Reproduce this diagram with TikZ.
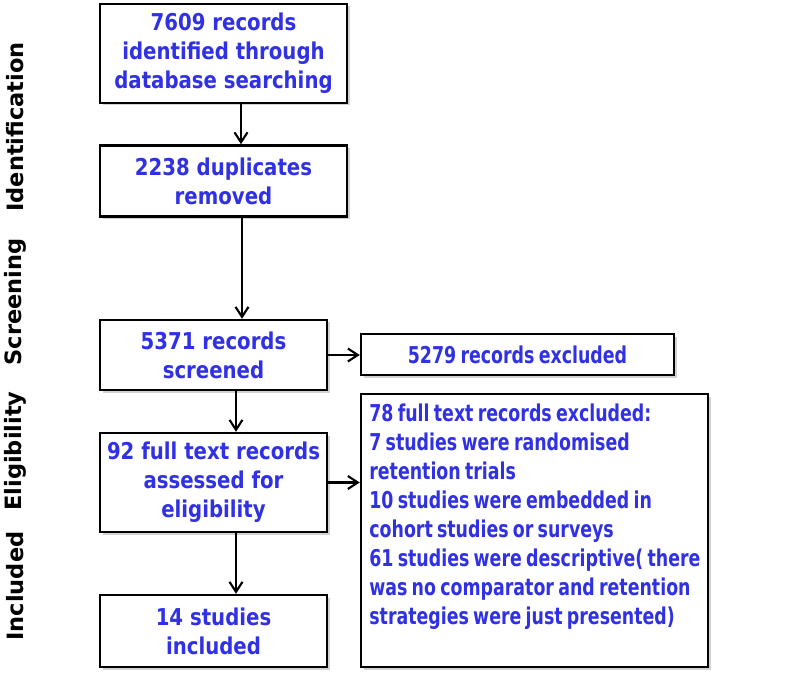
\documentclass[tikz,border=0pt]{standalone}
\usepackage{fontspec}
\setmainfont[FakeStretch=0.85]{DejaVu Sans}
\newfontfamily\phasefont{DejaVu Sans}
\newfontfamily\narrowfont[FakeStretch=0.75,WordSpace=0.7]{DejaVu Sans}
\usetikzlibrary{arrows.meta,shadows}
\definecolor{prismablue}{RGB}{48,48,228}

\begin{document}
\begin{tikzpicture}[x=0.02cm,y=-0.02cm,
  box/.style={draw,line width=1.4pt,fill=white,align=center,inner sep=0pt,
    font=\fontsize{13.2}{16.6}\selectfont\bfseries,text=prismablue,
    drop shadow={shadow xshift=.05cm,shadow yshift=-.05cm,fill=black!35}},
  narrowbox/.style={box,font=\narrowfont\fontsize{13.2}{16.6}\selectfont\bfseries},
  phase/.style={rotate=90,font=\phasefont\fontsize{12.8}{15}\selectfont\bfseries},
  arr/.style={line width=1.2pt,-{Straight Barb[length=.2cm,width=.26cm,line width=1.2pt]}}]
\useasboundingbox (0,0) rectangle (787,675);

\node[box,minimum width=247*0.02cm,minimum height=99*0.02cm] (found) at (223.5,53.5)
  {7609 records\\identified through\\database searching};
\node[box,minimum width=247*0.02cm,minimum height=71*0.02cm] (dupes) at (223.5,181)
  {2238 duplicates\\removed};

\node[box,minimum width=227*0.02cm,minimum height=70*0.02cm] (screened) at (213.5,355)
  {5371 records\\screened};
\node[narrowbox,minimum width=313*0.02cm,minimum height=41*0.02cm] (excl) at (517.5,354.5)
  {5279 records excluded};

\node[box,minimum width=227*0.02cm,minimum height=99*0.02cm] (fulltext) at (213.5,482.5)
  {92 full text records\\assessed for\\eligibility};
\node[box,minimum width=347*0.02cm,minimum height=273*0.02cm] (ftexcl) at (534.5,530.5) {};
\node[anchor=north west,align=left,inner sep=0pt,text=prismablue,
  font=\narrowfont\fontsize{13.2}{16.5}\selectfont\bfseries] (ftexcltext) at (369,404)
  {78 full text records excluded:\\
   7 studies were randomised\\
   retention trials\\
   10 studies were embedded in\\
   cohort studies or surveys\\
   61 studies were descriptive( there\\
   was no comparator and retention\\
   strategies were just presented)};

\node[box,minimum width=227*0.02cm,minimum height=72*0.02cm] (incl) at (213.5,631)
  {14 studies\\included};

\node[phase] (ident) at (15,127) {Identification};
\node[phase] (screen) at (15,302) {Screening};
\node[phase] (elig) at (15,451) {Eligibility};
\node[phase] (included) at (15,586) {Included};

\draw[arr] ([xshift=.35cm]found.south) -- ([xshift=.35cm]found.south |- dupes.north);
\draw[arr] ([xshift=.37cm]dupes.south) -- ([xshift=.37cm]dupes.south |- screened.north);
\draw[arr] ([xshift=.45cm]screened.south) -- ([xshift=.45cm]screened.south |- fulltext.north);
\draw[arr] ([xshift=.45cm]fulltext.south) -- ([xshift=.45cm]fulltext.south |- incl.north);

\draw[arr] (screened.east) -- (screened.east -| excl.west);
\draw[arr] (fulltext.east) -- (fulltext.east -| ftexcl.west);

\end{tikzpicture}
\end{document}
